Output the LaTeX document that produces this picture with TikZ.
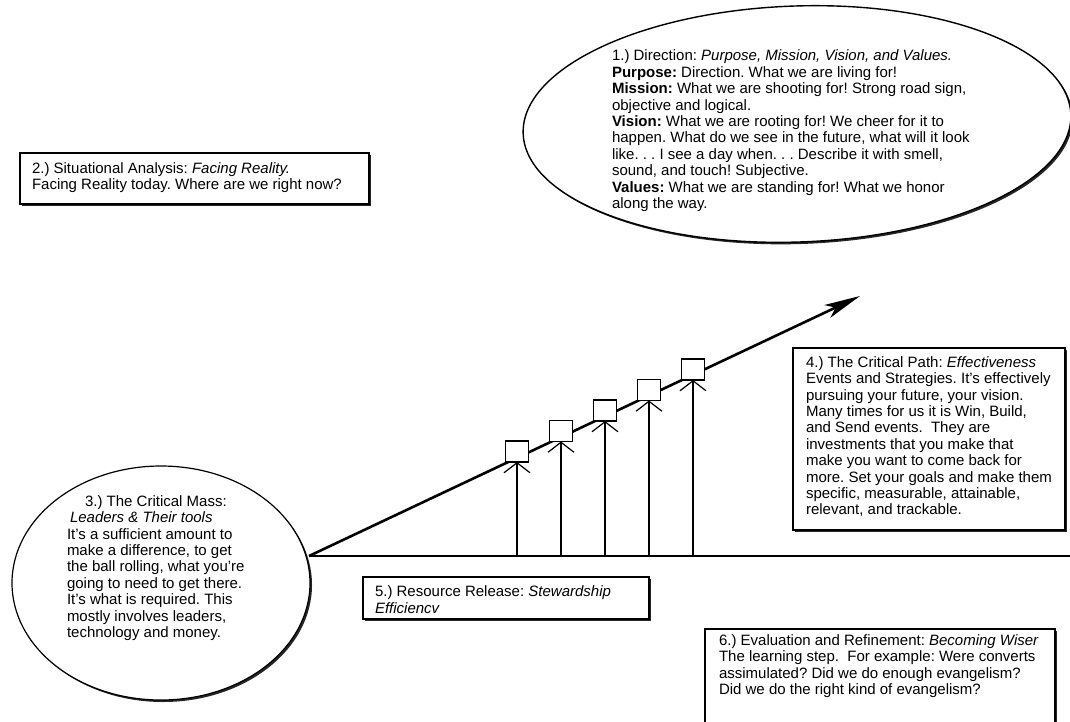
\documentclass[tikz,border=0pt]{standalone}
\usepackage{fontspec}
\setmainfont{Liberation Sans}
\usetikzlibrary{arrows.meta,shadows,shapes.geometric}
\frenchspacing
\begin{document}
\begin{tikzpicture}[x=1pt,y=-1pt,
  txt/.style={anchor=north west,inner sep=0pt,outer sep=0pt,align=left,
    font=\fontsize{15}{16.4}\selectfont\frenchspacing,execute at begin node={\rule{0pt}{11.5pt}}},
  frame/.style={draw=black,line width=1.1pt,fill=white,inner sep=0pt,outer sep=0pt,
    drop shadow={shadow xshift=2pt,shadow yshift=-2pt,fill=black,opacity=0.85}},
  boxframe/.style={frame,rectangle,anchor=north west},
  ovalframe/.style={frame,ellipse},
  stepsq/.style={draw,line width=1.1pt,fill=white,minimum width=23pt,minimum height=21pt,
    inner sep=0pt,outer sep=0pt,anchor=south},
  riser/.style={line width=1.2pt,-{Straight Barb[length=10pt,width=26pt,line width=1.2pt]}},
  mainpath/.style={line width=2.6pt,-{Stealth[length=36pt,width=14pt,inset=9pt]}},
  baseline/.style={line width=1.8pt},
]
\useasboundingbox (0,0) rectangle (1070,721);
\clip (0,0) rectangle (1070,721);
\fill[white] (0,0) rectangle (1070,721);

% 1.) Direction ellipse
\node[ovalframe,line width=1.4pt,minimum width=548pt,minimum height=236pt,rotate=2] (e1) at (797,124) {};
\node[txt] (t1) at (612,50) {1.) Direction: \textit{Purpose, Mission, Vision, and Values.}\\
\textbf{Purpose:} Direction. What we are living for!\\
\textbf{Mission:} What we are shooting for! Strong road sign,\\
objective and logical.\\
\textbf{Vision:} What we are rooting for! We cheer for it to\\
happen. What do we see in the future, what will it look\\
like. . . I see a day when. . . Describe it with smell,\\
sound, and touch! Subjective.\\
\textbf{Values:} What we are standing for! What we honor\\
along the way.};

% 2.) Situational analysis box
\node[boxframe,minimum width=349pt,minimum height=51pt] (b2) at (20,153) {};
\node[txt] (t2) at (32,162.5) {2.) Situational Analysis: \textit{Facing Reality.}\\
Facing Reality today. Where are we right now?};

% 3.) Critical mass ellipse
\node[ovalframe,line width=1.2pt,minimum width=298pt,minimum height=234pt] (e3) at (161,583) {};
\node[txt] (t3) at (67,495.5) {\hspace*{18pt}3.) The Critical Mass:\\
\hspace*{3pt}\textit{Leaders \& Their tools}\\
It's a sufficient amount to\\
make a difference, to get\\
the ball rolling, what you're\\
going to need to get there.\\
It's what is required. This\\
mostly involves leaders,\\
technology and money.};

% 4.) Critical path box
\node[boxframe,minimum width=272pt,minimum height=182pt] (b4) at (793,348) {};
\node[txt] (t4) at (806,356.5) {4.) The Critical Path: \textit{Effectiveness}\\
Events and Strategies. It's effectively\\
pursuing your future, your vision.\\
Many times for us it is Win, Build,\\
and Send events.~ They are\\
investments that you make that\\
make you want to come back for\\
more. Set your goals and make them\\
specific, measurable, attainable,\\
relevant, and trackable.};

% 5.) Resource release box
\node[boxframe,minimum width=286pt,minimum height=42pt] (b5) at (363,577) {};
\node[txt] (t5) at (375,586) {5.) Resource Release: \textit{Stewardship}\\
\textit{Efficiencv}};

% 6.) Evaluation box
\node[boxframe,minimum width=350pt,minimum height=120pt] (b6) at (705,629) {};
\node[txt] (t6) at (719,634.5) {6.) Evaluation and Refinement: \textit{Becoming Wiser}\\
The learning step.~ For example: Were converts\\
assimulated? Did we do enough evangelism?\\
Did we do the right kind of evangelism?};

% critical path axes
\coordinate (o) at (309,556);
\coordinate (tip) at (860,296);
\coordinate (hend) at (1075,556);
\draw[baseline] (o) -- (hend);
\draw[mainpath] (o) -- (tip);

% steps
\node[stepsq] (s1) at (517,462) {};
\node[stepsq] (s2) at (561,441.5) {};
\node[stepsq] (s3) at (605,421) {};
\node[stepsq] (s4) at (649,400.5) {};
\node[stepsq] (s5) at (693,380) {};
\coordinate (r1) at (517,556);
\coordinate (r2) at (561,556);
\coordinate (r3) at (605,556);
\coordinate (r4) at (649,556);
\coordinate (r5) at (693,556);
\draw[riser] (r1) -- (s1.south);
\draw[riser] (r2) -- (s2.south);
\draw[riser] (r3) -- (s3.south);
\draw[riser] (r4) -- (s4.south);
\draw[riser] (r5) -- (s5.south);
\end{tikzpicture}
\end{document}
